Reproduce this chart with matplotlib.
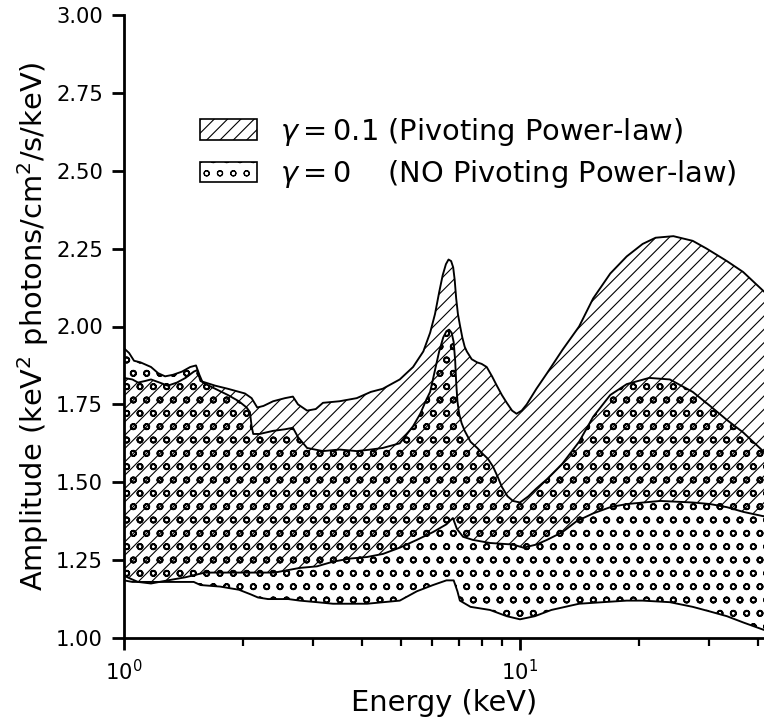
import numpy as np
import matplotlib
matplotlib.use('Agg')
import matplotlib.pyplot as plt
from matplotlib.patches import Patch
from matplotlib.ticker import FormatStrFormatter

# gamma = 0.1 band (hatched), upper and lower edges
e_hi1 = [1.00, 1.05, 1.085, 1.13, 1.17, 1.23, 1.29, 1.36, 1.43, 1.50, 1.53, 1.56, 1.70, 1.83,
         2.02, 2.10, 2.17, 2.25, 2.38, 2.55, 2.67, 2.75, 2.90, 3.05, 3.18, 3.50, 3.87, 4.20,
         4.50, 4.97, 5.37, 5.70, 5.93, 6.10, 6.25, 6.38, 6.50, 6.60, 6.70, 6.78, 6.84, 6.90,
         6.97, 7.05, 7.15, 7.25, 7.34, 7.55, 7.79, 8.00, 8.24, 8.50, 8.74, 9.00, 9.26, 9.55,
         9.80, 10.1, 10.4, 11.0, 11.7, 12.8, 14.1, 15.3, 16.9, 18.6, 20.4, 22.0, 24.4, 27.3,
         29.6, 33.3, 36.6, 41.5]
y_hi1 = [1.835, 1.83, 1.82, 1.825, 1.83, 1.82, 1.81, 1.82, 1.835, 1.855, 1.86, 1.825, 1.81, 1.80,
         1.785, 1.77, 1.74, 1.745, 1.76, 1.77, 1.775, 1.75, 1.73, 1.735, 1.755, 1.76, 1.77, 1.79,
         1.80, 1.83, 1.87, 1.92, 1.98, 2.04, 2.11, 2.165, 2.20, 2.215, 2.21, 2.19, 2.15, 2.09,
         2.04, 2.005, 1.965, 1.935, 1.92, 1.895, 1.885, 1.88, 1.87, 1.84, 1.81, 1.78, 1.755, 1.73,
         1.72, 1.73, 1.75, 1.80, 1.85, 1.925, 2.00, 2.09, 2.17, 2.225, 2.265, 2.285, 2.29, 2.275,
         2.25, 2.21, 2.175, 2.11]

e_lo1 = [1.00, 1.04, 1.085, 1.17, 1.29, 1.43, 1.60, 2.00, 2.40, 2.78, 3.07, 3.37, 3.72, 4.11,
         4.51, 4.97, 5.49, 6.03, 6.52, 6.77, 6.93, 7.18, 7.60, 8.40, 9.60, 10.2, 11.0, 11.7,
         12.8, 13.9, 15.3, 16.9, 18.6, 22.6, 27.3, 30.2, 33.3, 36.6, 41.5]
y_lo1 = [1.20, 1.19, 1.18, 1.175, 1.185, 1.195, 1.21, 1.21, 1.21, 1.225, 1.23, 1.245, 1.255, 1.26,
         1.27, 1.29, 1.315, 1.34, 1.365, 1.385, 1.35, 1.325, 1.315, 1.305, 1.30, 1.29, 1.30, 1.315,
         1.34, 1.375, 1.40, 1.42, 1.43, 1.44, 1.435, 1.43, 1.42, 1.405, 1.39]

# gamma = 0 band (dotted), upper and lower edges
e_hi0 = [1.00, 1.03, 1.06, 1.10, 1.17, 1.22, 1.27, 1.33, 1.40, 1.47, 1.52, 1.55, 1.58, 1.70,
         1.83, 1.95, 2.04, 2.08, 2.10, 2.12, 2.20, 2.38, 2.55, 2.67, 2.75, 2.90, 3.18, 3.50,
         3.87, 4.20, 4.50, 4.97, 5.37, 5.60, 5.80, 5.93, 6.10, 6.25, 6.40, 6.52, 6.62, 6.72,
         6.80, 6.86, 6.90, 6.95, 7.02, 7.12, 7.25, 7.50, 7.80, 8.07, 8.30, 8.55, 8.80, 9.00,
         9.30, 9.60, 10.0, 10.5, 11.0, 11.7, 12.8, 14.1, 15.3, 16.9, 18.6, 21.2, 23.9, 27.3,
         30.2, 33.3, 36.6, 41.5]
y_hi0 = [1.93, 1.915, 1.89, 1.885, 1.87, 1.85, 1.84, 1.845, 1.855, 1.87, 1.875, 1.845, 1.82, 1.80,
         1.78, 1.76, 1.74, 1.725, 1.68, 1.655, 1.655, 1.665, 1.67, 1.675, 1.645, 1.61, 1.60, 1.605,
         1.60, 1.605, 1.61, 1.625, 1.68, 1.72, 1.765, 1.79, 1.86, 1.92, 1.965, 1.985, 1.99, 1.98,
         1.95, 1.89, 1.82, 1.76, 1.72, 1.69, 1.665, 1.63, 1.61, 1.59, 1.575, 1.55, 1.515, 1.485,
         1.455, 1.44, 1.435, 1.455, 1.48, 1.51, 1.56, 1.63, 1.71, 1.78, 1.815, 1.835, 1.83, 1.79,
         1.745, 1.70, 1.66, 1.595]

e_lo0 = [1.00, 1.05, 1.17, 1.29, 1.50, 1.56, 1.75, 1.95, 2.09, 2.18, 2.31, 2.60, 2.78, 3.07,
         3.37, 4.11, 4.97, 5.49, 6.03, 6.52, 6.80, 6.95, 7.05, 7.50, 8.40, 9.26, 10.0, 10.9,
         12.0, 14.1, 18.6, 20.4, 23.9, 27.3, 30.2, 33.3, 36.6, 41.5]
y_lo0 = [1.185, 1.18, 1.18, 1.18, 1.18, 1.17, 1.165, 1.155, 1.14, 1.13, 1.125, 1.125, 1.12, 1.115,
         1.11, 1.11, 1.12, 1.15, 1.17, 1.185, 1.185, 1.15, 1.12, 1.10, 1.09, 1.07, 1.06, 1.07,
         1.09, 1.11, 1.12, 1.12, 1.115, 1.10, 1.085, 1.07, 1.05, 1.025]

labels = [r'$\gamma = 0.1$ (Pivoting Power-law)',
          r'$\gamma = 0$    (NO Pivoting Power-law)']

W, H, DPI = 764, 722, 80
fig = plt.figure(figsize=(W / DPI, H / DPI), dpi=DPI)
ax = fig.add_axes([124 / W, 84 / H, 640 / W, 623 / H])


def band(e_hi, y_hi, e_lo, y_lo, hatch, hlw):
    xs = np.concatenate([e_hi, e_lo[::-1]])
    ys = np.concatenate([y_hi, y_lo[::-1]])
    with plt.rc_context({'hatch.linewidth': hlw}):
        p, = ax.fill(xs, ys, facecolor='none', edgecolor='k', linewidth=0, hatch=hatch)
    if hasattr(p, 'set_hatch_linewidth'):
        p.set_hatch_linewidth(hlw)


band(e_hi1, y_hi1, e_lo1, y_lo1, '//', 1.0)
band(e_hi0, y_hi0, e_lo0, y_lo0, 'o', 1.6)

for e, y in [(e_hi1, y_hi1), (e_lo1, y_lo1), (e_hi0, y_hi0), (e_lo0, y_lo0)]:
    ax.plot(e, y, color='k', lw=1.7)

ax.set_xscale('log')
ax.set_xlim(1, 10 ** (640 / 396))
ax.set_ylim(1.0, 3.0)
ax.set_yticks(np.arange(1.0, 3.01, 0.25))
ax.yaxis.set_major_formatter(FormatStrFormatter('%.2f'))

for s in ['top', 'right']:
    ax.spines[s].set_visible(False)
for s in ['left', 'bottom']:
    ax.spines[s].set_linewidth(2.5)

ax.tick_params(which='major', length=11, width=2.5, labelsize=19, pad=8)
ax.tick_params(which='minor', length=7, width=2)

ax.set_xlabel('Energy (keV)', fontsize=26)
ax.set_ylabel('Amplitude (keV$^2$ photons/cm$^2$/s/keV)', fontsize=26)

handles = []
for h, hlw in [('//', 1.0), ('o', 1.6)]:
    with plt.rc_context({'hatch.linewidth': hlw}):
        pt = Patch(facecolor='white', edgecolor='k', hatch=h, lw=1.5)
    if hasattr(pt, 'set_hatch_linewidth'):
        pt.set_hatch_linewidth(hlw)
    handles.append(pt)
ax.legend(handles, labels, fontsize=26, frameon=False, loc='upper left',
          bbox_to_anchor=(0.10, 0.857), borderaxespad=0, labelspacing=0.36)

fig.savefig('out.png', dpi=DPI)
